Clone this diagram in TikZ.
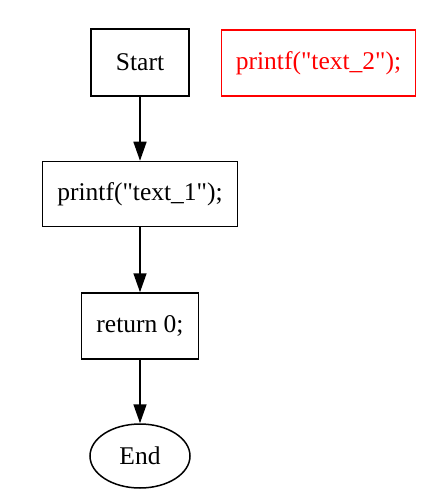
\documentclass[tikz,border=0pt]{standalone}
\usepackage{fontspec}
\newfontfamily\plainserif{Liberation Serif}
\usetikzlibrary{arrows.meta,shapes.geometric}
\tikzset{
  box/.style={draw, line width=1.5pt, inner sep=0pt, font=\plainserif\fontsize{25.5}{30}\selectfont},
  edge/.style={line width=1.6pt, -{Triangle[length=19pt,width=13pt]}}
}
\begin{document}
\begin{tikzpicture}[x=1pt,y=-1pt]
\useasboundingbox (0,0) rectangle (438,497);
\node[box, minimum width=98pt, minimum height=67pt] (start) at (140,62.5) {Start};
\node[box, draw=red, text=red, minimum width=194pt, minimum height=66pt] (t2) at (318.5,63) {printf("text\_2");};
\node[box, minimum width=195pt, minimum height=65pt] (t1) at (140,194) {printf("text\_1");};
\node[box, minimum width=117pt, minimum height=66pt] (ret) at (140,326) {return 0;};
\node[box, ellipse, minimum width=100pt, minimum height=64pt] (end) at (140,456) {End};
\draw[edge] (start) -- (t1);
\draw[edge] (t1) -- (ret);
\draw[edge] (ret) -- (end);
\end{tikzpicture}
\end{document}
